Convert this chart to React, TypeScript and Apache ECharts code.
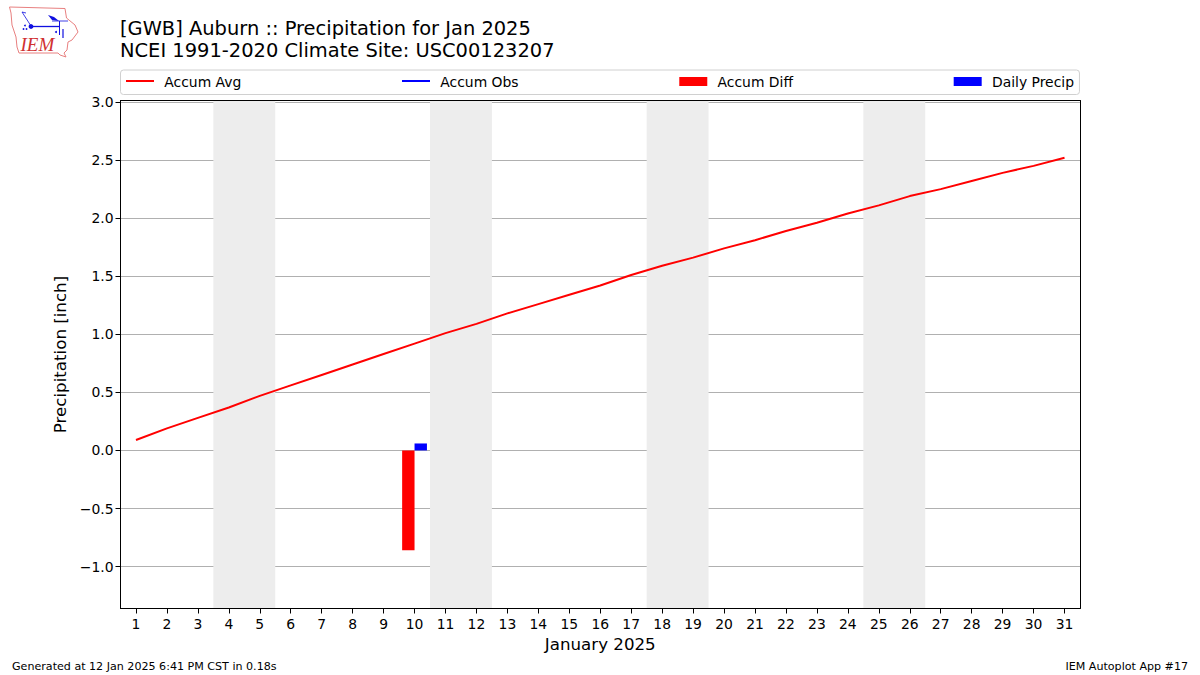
import React, { useEffect, useRef } from "react";
import * as echarts from "echarts";

const days = Array.from({ length: 31 }, (_, i) => String(i + 1));
const accumAvg = [0.09, 0.19, 0.28, 0.37, 0.47, 0.56, 0.65, 0.74, 0.83, 0.92, 1.01, 1.09, 1.18, 1.26, 1.34, 1.42, 1.51, 1.59, 1.66, 1.74, 1.81, 1.89, 1.96, 2.04, 2.11, 2.19, 2.25, 2.32, 2.39, 2.45, 2.52];
const accumObs: (number | null)[] = [];
const accumDiff = [null, null, null, null, null, null, null, null, null, -0.86];
const dailyPrecip = [null, null, null, null, null, null, null, null, null, 0.06];
const weekends = [[3.5, 5.5], [10.5, 12.5], [17.5, 19.5], [24.5, 26.5]];
const yTicks = [-1, -0.5, 0, 0.5, 1, 1.5, 2, 2.5, 3];
const titleText = "[GWB] Auburn :: Precipitation for Jan 2025\nNCEI 1991-2020 Climate Site: USC00123207";
const footerLeft = "Generated at 12 Jan 2025 6:41 PM CST in 0.18s";
const footerRight = "IEM Autoplot App #17";

const FONT = "DejaVu Sans";
const lineIcon = "path://M0 0L0 0M28 9L28 9M0 3H28V5H0Z";
const barIcon = "path://M0 0H28V9H0Z";

const iowa = [[9.5, 7], [65, 8.5], [66.5, 18], [75, 25], [78, 32], [72, 40], [68, 42], [67, 50], [64, 53], [66, 57], [60, 55], [58, 53], [19, 53], [17, 47], [16, 37], [12, 25], [11, 13]];

export default function App() {
  const ref = useRef<HTMLDivElement>(null);
  useEffect(() => {
    const chart = echarts.init(ref.current!, null, { renderer: "svg" });
    const blue = "#1010e0";
    const red = "#e88080";
    chart.setOption({
      animation: false,
      backgroundColor: "#fff",
      textStyle: { fontFamily: FONT },
      title: [
        { text: titleText, left: 120, top: 18, padding: 0, textStyle: { fontFamily: FONT, fontSize: 19.45, fontWeight: "normal", color: "#000", lineHeight: 21.5 } },
        { text: footerLeft, left: 12, top: 661, padding: 0, textStyle: { fontFamily: FONT, fontSize: 11.1, fontWeight: "normal", color: "#000" } },
        { text: footerRight, right: 12, top: 661, padding: 0, textStyle: { fontFamily: FONT, fontSize: 11.1, fontWeight: "normal", color: "#000" } },
      ],
      legend: {
        left: 120.5, top: 70, orient: "horizontal",
        padding: [4.5, 5.5, 6, 5.5],
        backgroundColor: "#fff", borderColor: "#d0d0d0", borderWidth: 1, borderRadius: 3,
        itemWidth: 28, itemHeight: 9, itemGap: 160.7, selectedMode: false,
        itemStyle: { borderWidth: 0 }, lineStyle: { width: 0 },
        textStyle: { fontFamily: FONT, fontSize: 13.9, color: "#000", padding: [0, 0, 3, 5.3] },
        data: [
          { name: "Accum Avg", icon: lineIcon },
          { name: "Accum Obs", icon: lineIcon },
          { name: "Accum Diff", icon: barIcon },
          { name: "Daily Precip", icon: barIcon },
        ],
      },
      grid: { left: 120.5, right: 120, top: 100.5, bottom: 66.5, show: false },
      xAxis: [
        {
          type: "category", data: days, boundaryGap: true, z: 5,
          name: "January 2025", nameLocation: "middle", nameGap: 27,
          nameTextStyle: { fontFamily: FONT, fontSize: 16.67, color: "#000" },
          axisLine: { show: true, onZero: false, lineStyle: { color: "#000", width: 1 } },
          axisTick: { show: true, alignWithLabel: true, length: 5, lineStyle: { color: "#000" } },
          axisLabel: { interval: 0, fontFamily: FONT, fontSize: 13.9, color: "#000", margin: 8 },
          splitLine: { show: false },
        },
        {
          type: "value", min: 0.5, max: 31.5, position: "top", z: 5,
          axisLine: { show: true, onZero: false, lineStyle: { color: "#000", width: 1 } },
          axisTick: { show: false }, axisLabel: { show: false }, splitLine: { show: false },
        },
      ],
      yAxis: [
        {
          type: "value", min: -1.361, max: 3.013, z: 1,
          name: "Precipitation [inch]", nameLocation: "middle", nameGap: 50,
          nameTextStyle: { fontFamily: FONT, fontSize: 16.67, color: "#000" },
          axisLine: { show: true, onZero: false, lineStyle: { color: "#000", width: 1 } },
          axisTick: { show: true, length: 5, lineStyle: { color: "#000" }, customValues: yTicks },
          axisLabel: {
            fontFamily: FONT, fontSize: 13.9, color: "#000", margin: 7, customValues: yTicks,
            formatter: (v: number) => (v < 0 ? "\u2212" + Math.abs(v).toFixed(1) : v.toFixed(1)),
          },
          splitLine: { show: true, lineStyle: { color: "#b0b0b0", width: 1 } },
        },
        {
          type: "value", min: -1.361, max: 3.013, position: "right", z: 5,
          axisLine: { show: true, onZero: false, lineStyle: { color: "#000", width: 1 } },
          axisTick: { show: false }, axisLabel: { show: false }, splitLine: { show: false },
        },
      ],
      series: [
        {
          name: "Weekend", type: "line", xAxisIndex: 1, yAxisIndex: 0, data: [], z: 0, silent: true,
          markArea: { silent: true, itemStyle: { color: "#ededed" }, data: weekends.map(([a, b]) => [{ xAxis: a }, { xAxis: b }]) },
        },
        { name: "Accum Avg", type: "line", data: accumAvg, color: "#ff0000", showSymbol: false, lineStyle: { color: "#ff0000", width: 2 }, z: 4 },
        { name: "Accum Obs", type: "line", data: accumObs, color: "#0000ff", showSymbol: false, lineStyle: { color: "#0000ff", width: 2 }, z: 4 },
        { name: "Accum Diff", type: "bar", data: accumDiff, color: "#ff0000", barWidth: 12.4, barGap: 0, z: 3 },
        { name: "Daily Precip", type: "bar", data: dailyPrecip, color: "#0000ff", barWidth: 12.4, barGap: 0, z: 3 },
      ],
      graphic: [
        { type: "polygon", shape: { points: iowa }, style: { fill: "#fff", stroke: red, lineWidth: 1 } },
        { type: "text", x: 20.5, y: 35, style: { text: "IEM", fill: "#d03030", font: "italic 19px 'Liberation Serif'" } },
        { type: "circle", shape: { cx: 31, cy: 26.5, r: 2.4 }, style: { fill: blue } },
        { type: "line", shape: { x1: 31, y1: 26.5, x2: 60, y2: 26.5 }, style: { stroke: blue, lineWidth: 1.3 } },
        { type: "line", shape: { x1: 22, y1: 12, x2: 31, y2: 26 }, style: { stroke: blue, lineWidth: 0.8 } },
        { type: "line", shape: { x1: 22, y1: 12, x2: 26, y2: 13 }, style: { stroke: blue, lineWidth: 0.8 } },
        { type: "polygon", shape: { points: [[48, 15], [54, 17], [59, 21], [52, 20]] }, style: { fill: blue } },
        { type: "line", shape: { x1: 52, y1: 21, x2: 68, y2: 21 }, style: { stroke: blue, lineWidth: 0.8 } },
        { type: "line", shape: { x1: 59.5, y1: 21, x2: 59.5, y2: 35 }, style: { stroke: blue, lineWidth: 1 } },
        { type: "line", shape: { x1: 63, y1: 29, x2: 63, y2: 38 }, style: { stroke: blue, lineWidth: 1.2 } },
        { type: "circle", shape: { cx: 56, cy: 32, r: 1 }, style: { fill: blue } },
        { type: "circle", shape: { cx: 25, cy: 25.5, r: 0.9 }, style: { fill: blue } },
        { type: "circle", shape: { cx: 23.5, cy: 29, r: 0.9 }, style: { fill: blue } },
        { type: "circle", shape: { cx: 26.5, cy: 29, r: 0.9 }, style: { fill: blue } },
      ],
    });
    return () => chart.dispose();
  }, []);
  return <div ref={ref} style={{ position: "absolute", left: 0, top: 0, width: 1200, height: 675 }} />;
}
